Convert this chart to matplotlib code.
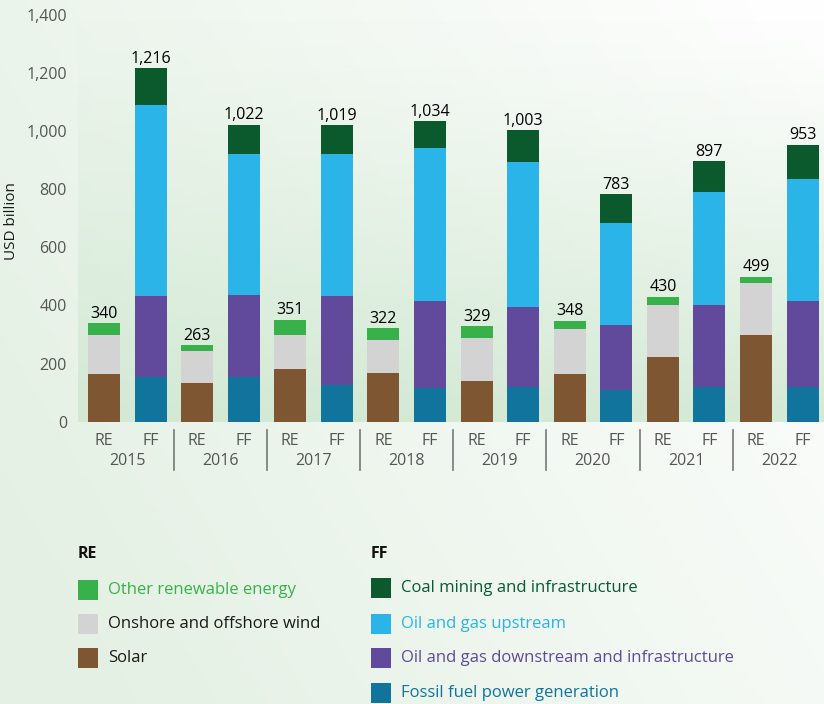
import numpy as np
import matplotlib
matplotlib.use("Agg")
import matplotlib.pyplot as plt
from matplotlib.patches import Rectangle
from matplotlib.colors import to_rgb

plt.rcParams['font.family'] = ['Open Sans', 'DejaVu Sans']

# ---------------- data ----------------
years = ["2015", "2016", "2017", "2018", "2019", "2020", "2021", "2022"]
# Renewable energy (RE)
solar = [164, 133, 181, 168, 140, 164, 223, 298]
wind = [134, 110, 117, 113, 148, 155, 178, 179]
other_re = [42, 20, 53, 41, 41, 29, 29, 22]
# Fossil fuels (FF)
ff_power = [154, 154, 126, 117, 119, 110, 119, 119]
og_downstream = [279, 282, 307, 298, 276, 223, 282, 296]
og_upstream = [656, 485, 488, 526, 498, 352, 389, 419]
coal = [127, 101, 98, 93, 110, 98, 107, 119]

re_series = [("Other renewable energy", other_re), ("Onshore and offshore wind", wind), ("Solar", solar)]
ff_series = [("Coal mining and infrastructure", coal), ("Oil and gas upstream", og_upstream),
             ("Oil and gas downstream and infrastructure", og_downstream),
             ("Fossil fuel power generation", ff_power)]

colors = {
    "Other renewable energy": "#39b14a",
    "Onshore and offshore wind": "#d3d3d3",
    "Solar": "#7f5632",
    "Coal mining and infrastructure": "#0b5a2e",
    "Oil and gas upstream": "#2bb4e8",
    "Oil and gas downstream and infrastructure": "#614a9c",
    "Fossil fuel power generation": "#10749c",
}
legend_text_colors = {
    "Other renewable energy": "#39b14a",
    "Onshore and offshore wind": "#1a1a1a",
    "Solar": "#1a1a1a",
    "Coal mining and infrastructure": "#0b5a2e",
    "Oil and gas upstream": "#2bb4e8",
    "Oil and gas downstream and infrastructure": "#614a9c",
    "Fossil fuel power generation": "#10749c",
}

W, H = 824, 704
fig = plt.figure(figsize=(W / 100, H / 100), dpi=100)

def fx(px):
    return px / W

def fy(py):
    return 1 - py / H

# ---------------- background gradient ----------------
bg = fig.add_axes([0, 0, 1, 1], zorder=-10)
bg.set_axis_off()
nx, ny = 200, 200
xx, yy = np.meshgrid(np.linspace(0, 1, nx), np.linspace(0, 1, ny))  # yy=0 at top
g = np.clip(0.7 * (1 - xx) + 0.35 * yy, 0, 1)
c_green = np.array(to_rgb("#e3f0e3"))
img = (1 - g)[..., None] * np.array([1, 1, 1]) + g[..., None] * c_green
bg.imshow(img, extent=[0, 1, 0, 1], aspect='auto', origin='upper')
bg.set_xlim(0, 1)
bg.set_ylim(0, 1)

# ---------------- main axes ----------------
ax_left, ax_right = 78, 824
ax_bottom, ax_top = 421.7, 14.7
ax = fig.add_axes([fx(ax_left), fy(ax_bottom), fx(ax_right - ax_left), (ax_bottom - ax_top) / H])
ax.patch.set_alpha(0)

# plot-area gradient (green at bottom fading upward)
grad = np.zeros((200, 2, 4))
pa = np.array(to_rgb("#d2e9d3"))
grad[..., :3] = pa
alpha = np.linspace(0, 1, 200) ** 1.3  # top -> bottom
grad[..., 3] = alpha[:, None] * 0.95
ax.imshow(grad, extent=[0, 1, 0, 1], transform=ax.transAxes, aspect='auto', zorder=0, origin='upper')

n = len(years)
centers = np.arange(n)
off = 0.25
bw = 0.344
x_re = centers - off
x_ff = centers + off

# RE stacks (bottom to top: solar, wind, other)
bottom = np.zeros(n)
for name, vals in [("Solar", solar), ("Onshore and offshore wind", wind), ("Other renewable energy", other_re)]:
    ax.bar(x_re, vals, bw, bottom=bottom, color=colors[name], zorder=2, linewidth=0)
    bottom += np.array(vals)
re_tot = bottom.copy()

bottom = np.zeros(n)
for name, vals in [("Fossil fuel power generation", ff_power), ("Oil and gas downstream and infrastructure", og_downstream),
                   ("Oil and gas upstream", og_upstream), ("Coal mining and infrastructure", coal)]:
    ax.bar(x_ff, vals, bw, bottom=bottom, color=colors[name], zorder=2, linewidth=0)
    bottom += np.array(vals)
ff_tot = bottom.copy()

for xs, tots in [(x_re, re_tot), (x_ff, ff_tot)]:
    for x, t in zip(xs, tots):
        ax.annotate(f"{int(t):,}", (x, t), xytext=(0, 3.8), textcoords="offset points",
                    ha="center", va="baseline", fontsize=11.5, color="#000000", fontweight="medium")

ax.set_xlim(-0.529, 7.48)
ax.set_ylim(0, 1400)
ax.set_yticks(np.arange(0, 1401, 200))
ax.set_yticklabels([f"{v:,}" for v in range(0, 1401, 200)])
ax.tick_params(axis='y', length=0, pad=8, labelsize=11.5, labelcolor="#555555")
ax.set_xticks([])
for s in ax.spines.values():
    s.set_visible(False)

# x category labels
xt = ax.get_xaxis_transform()
h_ax = ax_bottom - ax_top
def ay(py):
    return (ax_bottom - py) / h_ax

for i in range(n):
    ax.text(x_re[i], ay(441), "RE", transform=xt, ha="center", va="center", fontsize=11.5, color="#555555", clip_on=False)
    ax.text(x_ff[i], ay(441), "FF", transform=xt, ha="center", va="center", fontsize=11.5, color="#555555", clip_on=False)
    ax.text(centers[i], ay(461), years[i], transform=xt, ha="center", va="center", fontsize=11.5, color="#555555", clip_on=False)
for i in range(n - 1):
    ax.plot([i + 0.5, i + 0.5], [ay(430), ay(470)], transform=xt, color="#777777", lw=1.2, clip_on=False)

fig.text(fx(12), fy(221), "USD billion", rotation=90, ha="center", va="center", fontsize=11, color="#1a1a1a")

# ---------------- legend ----------------
def legend_block(x0, title, series, rows_y):
    fig.text(fx(x0), fy(554), title, ha="left", va="center", fontsize=11.5, fontweight="bold", color="#111111")
    for (name, _), yc in zip(series, rows_y):
        fig.patches.append(Rectangle((fx(x0), fy(yc + 10)), fx(20), 20 / H, transform=fig.transFigure,
                                     facecolor=colors[name], edgecolor="none"))
        fig.text(fx(x0 + 30), fy(yc), name, ha="left", va="center", fontsize=12, color=legend_text_colors[name])

legend_block(78, "RE", re_series, [590, 624, 658])
legend_block(371, "FF", ff_series, [588, 624, 658, 693])

fig.savefig("out.png", dpi=100)
